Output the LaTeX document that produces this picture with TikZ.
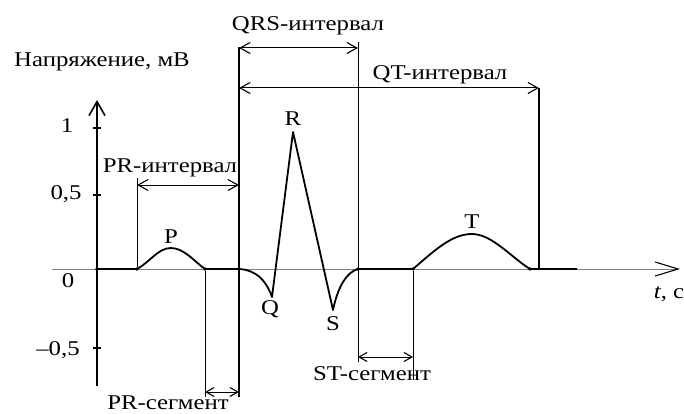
\documentclass[tikz,border=0pt]{standalone}
\usepackage{fontspec}
\setmainfont{Liberation Serif}
\usetikzlibrary{arrows.meta}
\newcommand\wtxt[1]{\scalebox{1.18}[1]{#1}}
\begin{document}
\begin{tikzpicture}[x=1pt,y=-1pt,
  lbl/.style={font=\fontsize{21}{24}\selectfont, inner sep=0pt, anchor=base},
  dim/.style={line width=1pt},
  dimarr/.style={line width=1pt, {Straight Barb[length=10pt,width=11pt,line width=1.1pt]}-{Straight Barb[length=10pt,width=11pt,line width=1.1pt]}},
  smallarr/.style={line width=1pt, {Straight Barb[length=8pt,width=9pt,line width=1.1pt]}-{Straight Barb[length=8pt,width=9pt,line width=1.1pt]}},
  ecg/.style={line width=1.8pt, line join=round},
  jdot/.style={circle, fill, inner sep=0pt, minimum size=3.8pt}]
\useasboundingbox (0,0) rectangle (684,414);

% axes
\coordinate (xs) at (52,269);
\coordinate (xe) at (680,269);
\coordinate (yb) at (97,386);
\coordinate (yt) at (97,100);
\draw[line width=0.8pt, black!50, -{Straight Barb[length=23pt,width=14pt,color=black,line width=1.1pt]}] (xs) -- (xe);
\draw[line width=1.8pt, -{Straight Barb[length=14pt,width=16pt,line width=1.6pt]}] (yb) -- (yt);
\foreach \yy in {128,195,348} \draw[line width=1.2pt] (93,\yy) -- (101,\yy);

% ECG trace
\draw[ecg] (97,269) -- (137,269)
  .. controls (150,262) and (158,248) .. (171,248)
  .. controls (184,248) and (195,262) .. (205,269) -- (239,269)
  .. controls (256,270) and (266,280) .. (272,297) -- (293,132) -- (333,310)
  .. controls (338,286) and (347,272) .. (358,269) -- (413,269)
  .. controls (435,250) and (452,234) .. (472,234)
  .. controls (492,234) and (512,258) .. (530,269) -- (577,269);
\foreach \xx/\nm in {97/d1,137/d2,205/d3,239/d4,358/d5,413/d6,530/d7}
  \node[jdot] (\nm) at (\xx,269) {};

% dimension lines
\coordinate (pr1t) at (137,178);
\coordinate (qrsLt) at (239,47);
\coordinate (qrsLb) at (239,397);
\coordinate (prsb) at (205,397);
\coordinate (qrsRt) at (358,42);
\coordinate (qrsRb) at (358,362);
\coordinate (qtRt) at (539,88);
\coordinate (qtRb) at (539,269);
\coordinate (stb) at (413,380);
\draw[dim] (pr1t) -- (d2);
\draw[line width=1.4pt] (qrsLt) -- (qrsLb);
\draw[dim] (d3) -- (prsb);
\draw[dim] (qrsRt) -- (qrsRb);
\draw[line width=1.3pt] (qtRt) -- (qtRb);
\draw[dim] (d6) -- (stb);

\coordinate (a1) at (137,185); \coordinate (a2) at (239,185);
\draw[dimarr] (a1) -- (a2);
\coordinate (b1) at (239,48); \coordinate (b2) at (358,48);
\draw[dimarr] (b1) -- (b2);
\coordinate (c1) at (239,88); \coordinate (c2) at (539,88);
\draw[dimarr] (c1) -- (c2);
\coordinate (e1) at (205,392); \coordinate (e2) at (239,392);
\draw[smallarr] (e1) -- (e2);
\coordinate (f1) at (358,357); \coordinate (f2) at (413,357);
\draw[smallarr] (f1) -- (f2);

% labels
\node[lbl] (ylab) at (102,67) {\wtxt{Напряжение, мВ}};
\node[lbl] (qrs) at (308,31) {\wtxt{QRS-интервал}};
\node[lbl] (qt) at (440,80) {\wtxt{QT-интервал}};
\node[lbl] (pri) at (170,172) {\wtxt{PR-интервал}};
\node[lbl] (prs) at (168,409) {\wtxt{PR-сегмент}};
\node[lbl] (sts) at (372,380) {\wtxt{ST-сегмент}};
\node[lbl] (lp) at (171,243) {\wtxt{P}};
\node[lbl] (lr) at (293,126) {\wtxt{R}};
\node[lbl] (lq) at (270,314) {\wtxt{Q}};
\node[lbl] (ls) at (333,330) {\wtxt{S}};
\node[lbl] (lt) at (472,228) {\wtxt{T}};
\node[lbl] (tc) at (669,298) {\wtxt{\textit{t}, с}};
\node[lbl] (v1) at (67,133) {\wtxt{1}};
\node[lbl] (v05) at (66,199) {\wtxt{0,5}};
\node[lbl] (v0) at (68,287) {\wtxt{0}};
\node[lbl] (vm05) at (58,355) {\wtxt{–0,5}};
\end{tikzpicture}
\end{document}
